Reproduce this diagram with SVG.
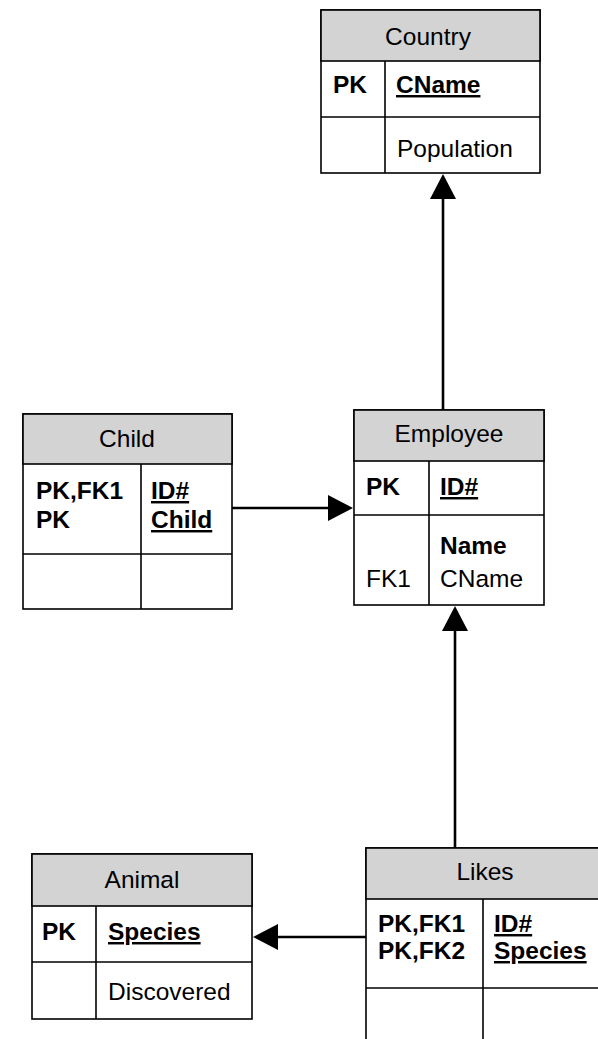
<svg xmlns="http://www.w3.org/2000/svg" width="598" height="1039" viewBox="0 0 598 1039">
<style>
.box{fill:#fff;stroke:#000;stroke-width:1.6}
.hdr{fill:#d3d3d3;stroke:#000;stroke-width:1.6}
.ln{stroke:#000;stroke-width:1.6;fill:none}
.t{font-family:"Liberation Sans",Arial,sans-serif;font-size:24.5px;fill:#000}
.b{font-weight:bold}
.u{text-decoration:underline}
.c{text-anchor:middle}
.con{stroke:#000;stroke-width:2.6;fill:none;marker-end:url(#ah)}
</style>
<defs>
<marker id="ah" markerUnits="userSpaceOnUse" markerWidth="25" markerHeight="26" refX="13" refY="13" orient="auto" viewBox="0 0 25 26">
<path d="M0,0 L25,13 L0,26 z" fill="#000"/>
</marker>
</defs>
<g id="connectors">
<line class="con" x1="443" y1="410" x2="443" y2="186"/>
<line class="con" x1="232" y1="508" x2="341" y2="508"/>
<line class="con" x1="455" y1="848" x2="455" y2="618"/>
<line class="con" x1="366" y1="937" x2="265" y2="937"/>
</g>
<g id="country">
<rect class="box" x="321" y="10" width="219" height="163"/>
<rect class="hdr" x="321" y="10" width="219" height="51"/>
<line class="ln" x1="321" y1="117" x2="540" y2="117"/>
<line class="ln" x1="385" y1="61" x2="385" y2="173"/>
<text class="t c" x="428" y="45">Country</text>
<text class="t b" x="333" y="93">PK</text>
<text class="t b u" x="396" y="93">CName</text>
<text class="t" x="397" y="157">Population</text>
</g>
<g id="child">
<rect class="box" x="23" y="414" width="209" height="195"/>
<rect class="hdr" x="23" y="414" width="209" height="50"/>
<line class="ln" x1="23" y1="554" x2="232" y2="554"/>
<line class="ln" x1="141" y1="464" x2="141" y2="609"/>
<text class="t c" x="127" y="447">Child</text>
<text class="t b" x="36" y="499">PK,FK1</text>
<text class="t b" x="36" y="528">PK</text>
<text class="t b u" x="151" y="499">ID#</text>
<text class="t b u" x="151" y="528">Child</text>
</g>
<g id="employee">
<rect class="box" x="354" y="410" width="190" height="195"/>
<rect class="hdr" x="354" y="410" width="190" height="51"/>
<line class="ln" x1="354" y1="515" x2="544" y2="515"/>
<line class="ln" x1="429" y1="461" x2="429" y2="605"/>
<text class="t c" x="449" y="442">Employee</text>
<text class="t b" x="366" y="495">PK</text>
<text class="t b u" x="440" y="495">ID#</text>
<text class="t b" x="440" y="554">Name</text>
<text class="t" x="366" y="587">FK1</text>
<text class="t" x="440" y="587">CName</text>
</g>
<g id="animal">
<rect class="box" x="32" y="854" width="220" height="165"/>
<rect class="hdr" x="32" y="854" width="220" height="52"/>
<line class="ln" x1="32" y1="962" x2="252" y2="962"/>
<line class="ln" x1="96" y1="906" x2="96" y2="1019"/>
<text class="t c" x="142" y="888">Animal</text>
<text class="t b" x="42" y="940">PK</text>
<text class="t b u" x="108" y="940">Species</text>
<text class="t" x="108" y="1000">Discovered</text>
</g>
<g id="likes">
<rect class="box" x="366" y="848" width="240" height="200"/>
<rect class="hdr" x="366" y="848" width="240" height="51"/>
<line class="ln" x1="366" y1="988" x2="606" y2="988"/>
<line class="ln" x1="483" y1="899" x2="483" y2="1045"/>
<text class="t c" x="485" y="880">Likes</text>
<text class="t b" x="378" y="932">PK,FK1</text>
<text class="t b" x="378" y="959">PK,FK2</text>
<text class="t b u" x="494" y="932">ID#</text>
<text class="t b u" x="494" y="959">Species</text>
</g>
</svg>
